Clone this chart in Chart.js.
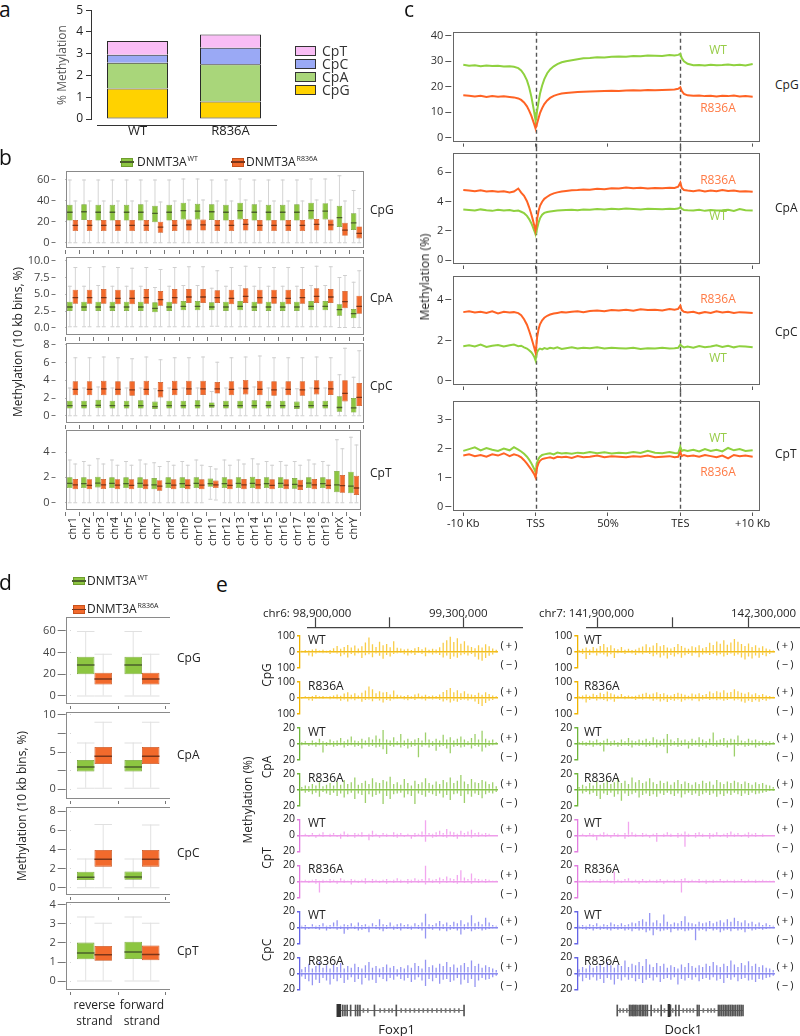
<!DOCTYPE html>
<html><head><meta charset="utf-8">
<script src="https://cdn.jsdelivr.net/npm/chart.js"></script>
<style>
html,body{margin:0;padding:0;background:#fff;}
#root{position:relative;width:800px;height:1036px;overflow:hidden;background:#fff;font-family:'Open Sans',sans-serif;}
canvas{position:absolute;}
</style></head><body><div id="root"></div>
<script>
// ================= DATA =================
// --- panel a (stacked % methylation) ---
const aCats = ['WT', 'R836A'];
const aCpG = [1.40, 0.80];
const aCpA = [1.18, 1.72];
const aCpC = [0.37, 0.76];
const aCpT = [0.63, 0.60];
const aTicks = [0, 1, 2, 3, 4, 5];

// --- panel b (per-chromosome boxplots) ---
const bChr = ['chr1','chr2','chr3','chr4','chr5','chr6','chr7','chr8','chr9','chr10','chr11','chr12','chr13','chr14','chr15','chr16','chr17','chr18','chr19','chrX','chrY'];
const bCpG_WT_min = [0,0,0,0,0,0,0,0,0,0,0,0,0,0,0,0,0,0,0,0,0];
const bCpG_WT_q1  = [21,21.5,21,21,21,21,19.5,21,22,22,21.5,21,22,21,21,21,21,22,22,15,12];
const bCpG_WT_med = [29.5,30,29.5,29.5,29.5,29.5,28.5,29.5,31,30.5,30,29.5,31,29.5,29.5,29.5,29.5,31,30.5,24.5,19.5];
const bCpG_WT_q3  = [36,36.5,36,36,36,36.5,35,36,38,37,36.5,36,38,36.5,36,36,36.5,38,37.5,35,28];
const bCpG_WT_max = [60,60,60,60,60,60,60,60,61,61,60,60,61,60,60,60,60,61,61,64,50];
const bCpG_R_min = [0,0,0,0,0,0,0,0,0,0,0,0,0,0,0,0,0,0,0,0,0];
const bCpG_R_q1  = [11,11,11,11,11,11,9.5,11,11.5,11.5,11,11,11.5,11,11,11,11,11.5,11.5,6.5,4];
const bCpG_R_med = [17,17,17,17,17,17,15.5,17,17.5,17.5,17,17,18,17,17,17,17,18,17.5,12.5,9.5];
const bCpG_R_q3  = [21.5,21.5,21.5,21.5,21.5,21.5,20,21.5,22,22,21.5,21.5,22.5,21.5,21.5,21.5,21.5,22.5,22,19,15.5];
const bCpG_R_max = [40,40,40,40,40,40,39,40,41,41,40,40,41,40,40,40,40,41,41,40,33];

const bCpA_WT_min = [0.2,0.2,0.2,0.2,0.2,0.2,0.2,0.2,0.2,0.2,0.3,0.2,0.2,0.2,0.2,0.2,0.2,0.2,0.2,0.1,0.1];
const bCpA_WT_q1  = [2.5,2.5,2.5,2.5,2.5,2.5,2.3,2.5,2.6,2.6,2.6,2.5,2.6,2.5,2.5,2.5,2.5,2.6,2.6,1.8,1.4];
const bCpA_WT_med = [3.2,3.2,3.2,3.2,3.2,3.2,3.0,3.2,3.3,3.3,3.2,3.2,3.3,3.2,3.2,3.2,3.2,3.3,3.3,2.8,2.2];
const bCpA_WT_q3  = [3.9,3.9,3.9,3.9,3.9,3.9,3.8,3.9,4.0,4.0,3.8,3.9,4.0,3.9,3.9,3.9,3.9,4.0,4.0,3.5,2.8];
const bCpA_WT_max = [6.3,6.3,6.4,6.3,6.3,6.3,6.1,6.3,6.4,6.4,6.0,6.3,6.4,6.3,6.3,6.3,6.3,6.4,6.4,7.6,6.9];
const bCpA_R_min = [0.2,0.2,0.2,0.2,0.2,0.2,0.2,0.2,0.2,0.2,0.3,0.2,0.2,0.2,0.2,0.2,0.2,0.2,0.2,0.1,0.1];
const bCpA_R_q1  = [3.6,3.6,3.6,3.5,3.5,3.6,3.3,3.6,3.7,3.7,3.7,3.5,3.7,3.6,3.6,3.5,3.6,3.7,3.7,2.9,2.1];
const bCpA_R_med = [4.6,4.6,4.6,4.5,4.5,4.6,4.3,4.6,4.7,4.7,4.6,4.5,4.8,4.6,4.6,4.5,4.6,4.8,4.7,4.0,3.3];
const bCpA_R_q3  = [5.7,5.7,5.8,5.7,5.7,5.8,5.5,5.8,5.8,5.8,5.6,5.7,5.9,5.7,5.7,5.7,5.8,5.9,5.8,5.5,4.8];
const bCpA_R_max = [9.1,9.1,9.2,9.1,9.0,9.1,8.8,9.1,9.2,9.2,8.6,9.1,9.3,9.1,9.1,9.1,9.1,9.3,9.2,7.9,8.6];

const bCpC_WT_min = [0,0,0,0,0,0,0,0,0,0,0,0,0,0,0,0,0,0,0,0,0];
const bCpC_WT_q1  = [0.8,0.8,0.85,0.8,0.8,0.8,0.75,0.8,0.8,0.8,0.9,0.8,0.8,0.8,0.8,0.8,0.75,0.8,0.8,0.45,0.35];
const bCpC_WT_med = [1.2,1.2,1.25,1.2,1.2,1.2,1.1,1.2,1.2,1.2,1.2,1.2,1.2,1.2,1.2,1.2,1.1,1.2,1.2,1.0,0.95];
const bCpC_WT_q3  = [1.7,1.7,1.8,1.7,1.7,1.75,1.6,1.7,1.7,1.75,1.5,1.7,1.7,1.75,1.7,1.7,1.6,1.7,1.7,2.2,2.0];
const bCpC_WT_max = [3.2,3.2,3.3,3.2,3.2,3.2,3.1,3.2,3.2,3.2,2.8,3.2,3.2,3.3,3.2,3.2,3.1,3.2,3.2,4.7,4.4];
const bCpC_R_min = [0,0,0,0,0,0,0,0,0,0,0,0,0,0,0,0,0,0,0,0,0];
const bCpC_R_q1  = [2.3,2.3,2.3,2.3,2.25,2.3,2.05,2.3,2.35,2.35,2.5,2.3,2.4,2.3,2.25,2.3,2.25,2.4,2.35,1.6,1.1];
const bCpC_R_med = [3.05,3.05,3.1,3.05,3.0,3.05,2.9,3.05,3.1,3.1,3.1,3.05,3.15,3.05,3.0,3.05,3.0,3.15,3.1,2.6,2.15];
const bCpC_R_q3  = [3.9,3.9,3.95,3.9,3.9,3.95,3.8,3.95,3.95,3.95,3.8,3.9,4.05,3.95,3.9,3.9,3.9,4.0,3.95,4.0,3.7];
const bCpC_R_max = [6.6,6.6,6.7,6.6,6.5,6.7,6.4,6.6,6.6,6.7,6.1,6.6,6.7,6.8,6.6,6.6,6.6,6.7,6.6,7.7,7.4];

const bCpT_WT_min = [0,0,0,0,0,0,0,0,0,0,0.3,0,0,0,0,0,0,0,0,0,0];
const bCpT_WT_q1  = [1.15,1.15,1.2,1.15,1.15,1.15,1.05,1.15,1.15,1.15,1.25,1.15,1.15,1.15,1.15,1.15,1.1,1.15,1.15,0.82,0.74];
const bCpT_WT_med = [1.58,1.55,1.6,1.57,1.55,1.57,1.45,1.57,1.55,1.57,1.55,1.55,1.57,1.57,1.55,1.57,1.5,1.6,1.55,1.45,1.35];
const bCpT_WT_q3  = [2.0,2.0,2.05,2.0,2.0,2.0,1.95,2.0,2.0,2.0,1.9,2.0,2.0,2.05,2.0,2.0,1.95,2.0,2.0,2.5,2.45];
const bCpT_WT_max = [3.4,3.3,3.5,3.4,3.3,3.4,3.2,3.3,3.3,3.4,2.9,3.4,3.4,3.5,3.3,3.3,3.3,3.4,3.3,5.0,5.2];
const bCpT_R_min = [0,0,0,0,0,0,0,0,0,0,0.25,0,0,0,0,0,0,0,0,0,0];
const bCpT_R_q1  = [1.05,1.05,1.07,1.05,1.05,1.05,0.95,1.05,1.05,1.05,1.15,1.05,1.05,1.05,1.05,1.05,1.0,1.05,1.05,0.79,0.6];
const bCpT_R_med = [1.45,1.42,1.45,1.43,1.42,1.43,1.35,1.43,1.42,1.43,1.45,1.42,1.45,1.45,1.42,1.43,1.38,1.45,1.42,1.39,1.21];
const bCpT_R_q3  = [1.87,1.85,1.87,1.85,1.85,1.85,1.78,1.85,1.85,1.85,1.75,1.85,1.87,1.87,1.85,1.85,1.8,1.87,1.85,2.18,2.13];
const bCpT_R_max = [3.1,3.0,3.1,3.0,3.0,3.1,2.9,3.0,3.0,3.0,2.7,3.0,3.1,3.1,3.0,3.0,3.0,3.1,3.0,4.3,4.6];

const bTicksCpG = [0, 20, 40, 60];
const bTicksCpA = [0, 2.5, 5, 7.5, 10];
const bTicksCpC = [0, 2, 4, 6, 8];
const bTicksCpT = [0, 2, 4];

// --- panel c (metagene profiles) ---
const cX = [0,8,16,24,32,40,48,56,64,70,76,80,84,88,91,94,96,98,99,100,101,102,104,106,109,112,116,120,125,130,136,142,150,158,166,175,185,195,205,215,225,235,245,255,265,275,285,292,297,300,302,305,310,318,326,334,342,350,358,366,374,382,390,400];
const cTickVals = [0, 100, 200, 300, 400];
const cTickLabels = ['-10 Kb', 'TSS', '50%', 'TES', '+10 Kb'];
const cCpG_WT = [28.6,28.2,28.4,28.0,28.3,28.1,28.2,27.9,28.0,27.8, 27.3,26.4,24.8,22.5,19.8,16.2,13.2,10.0,8.2,6.5, 8.0,10.5,14.0,17.2,20.5,23.0,25.3,26.8,28.0,28.9, 29.6,30.0,30.4,30.8,31.2,31.3,31.6,31.5,31.8,31.9, 31.8,32.1,32.0,32.3,32.2,32.1,32.4,32.3,32.5,32.9, 31.2,30.0,29.0,28.4,28.5,28.3,28.6,28.4,28.5,28.7, 28.4,28.6,28.3,28.9];
const cCpG_R = [16.6,16.4,16.2,16.4,16.0,16.3,16.1,16.2,16.0,15.8, 15.4,14.8,13.8,12.3,10.6,8.6,7.0,5.3,4.4,3.8, 4.4,5.6,7.6,9.6,11.6,13.2,14.6,15.6,16.4,16.9, 17.3,17.5,17.7,17.9,18.0,18.1,18.2,18.3,18.4,18.3, 18.5,18.6,18.5,18.7,18.6,18.7,18.8,18.9,19.2,19.8, 18.3,17.2,16.6,16.4,16.5,16.3,16.4,16.2,16.4,16.3, 16.5,16.2,16.3,16.1];
const cCpA_WT = [3.45,3.42,3.38,3.46,3.40,3.36,3.44,3.38,3.42,3.35, 3.38,3.30,3.20,3.02,2.80,2.52,2.28,2.02,1.88,1.78, 1.90,2.15,2.55,2.85,3.10,3.22,3.28,3.32,3.35,3.38, 3.40,3.42,3.44,3.40,3.46,3.44,3.48,3.45,3.50,3.47, 3.52,3.49,3.46,3.50,3.48,3.47,3.50,3.48,3.52,3.60, 3.50,3.42,3.40,3.38,3.44,3.36,3.42,3.38,3.40,3.44, 3.36,3.48,3.40,3.38];
const cCpA_R = [4.78,4.74,4.70,4.76,4.68,4.72,4.66,4.70,4.62,4.68, 4.88,4.60,4.38,4.02,3.62,3.15,2.78,2.38,2.18,2.08, 2.30,2.80,3.35,3.70,3.98,4.18,4.32,4.45,4.55,4.62, 4.68,4.72,4.76,4.78,4.82,4.80,4.86,4.84,4.90,4.88, 4.95,4.90,4.93,4.88,4.92,4.90,4.94,4.92,5.00,5.28, 4.92,4.78,4.74,4.70,4.76,4.68,4.74,4.70,4.78,4.72, 4.75,4.68,4.70,4.66];
const cCpC_WT = [1.72,1.76,1.70,1.80,1.68,1.74,1.78,1.70,1.76,1.80, 1.72,1.74,1.66,1.60,1.52,1.42,1.32,1.20,1.10,1.04, 1.25,1.42,1.55,1.60,1.56,1.62,1.58,1.64,1.60,1.66, 1.58,1.62,1.66,1.60,1.64,1.62,1.66,1.60,1.64,1.62, 1.60,1.64,1.58,1.62,1.60,1.64,1.60,1.62,1.64,1.80, 1.72,1.66,1.70,1.64,1.72,1.66,1.70,1.76,1.68,1.74, 1.66,1.72,1.70,1.66];
const cCpC_R = [3.40,3.44,3.38,3.42,3.36,3.44,3.34,3.42,3.38,3.40, 3.35,3.25,3.05,2.78,2.48,2.15,1.90,1.65,1.52,1.45, 1.75,2.15,2.55,2.80,3.00,3.12,3.22,3.28,3.33,3.36, 3.40,3.38,3.42,3.44,3.40,3.46,3.48,3.44,3.50,3.48, 3.52,3.47,3.54,3.50,3.52,3.48,3.55,3.52,3.56,3.72, 3.50,3.42,3.38,3.42,3.34,3.40,3.36,3.44,3.38,3.42, 3.36,3.40,3.38,3.36];
const cCpT_WT = [1.92,1.98,2.04,1.94,2.02,1.96,1.92,2.00,1.94,2.05, 1.96,1.90,1.82,1.72,1.62,1.50,1.40,1.30,1.24,1.20, 1.35,1.52,1.65,1.72,1.78,1.80,1.82,1.84,1.80,1.86, 1.83,1.85,1.82,1.86,1.84,1.88,1.84,1.87,1.83,1.86, 1.84,1.88,1.85,1.92,1.86,1.84,1.88,1.85,1.84,2.06, 1.92,1.95,1.92,1.96,1.90,1.98,1.92,1.96,1.90,2.02, 1.94,1.98,1.92,1.94];
const cCpT_R = [1.76,1.80,1.74,1.78,1.72,1.80,1.76,1.84,1.74,1.80, 1.76,1.70,1.60,1.48,1.38,1.28,1.20,1.12,1.06,1.03, 1.18,1.35,1.50,1.58,1.64,1.66,1.68,1.70,1.66,1.72, 1.70,1.72,1.68,1.74,1.70,1.72,1.76,1.70,1.74,1.72, 1.70,1.74,1.72,1.76,1.70,1.72,1.74,1.70,1.72,1.88, 1.74,1.78,1.74,1.76,1.72,1.78,1.74,1.70,1.76,1.66, 1.78,1.74,1.76,1.72];
const cTicksCpG = [0, 10, 20, 30, 40];
const cTicksCpA = [0, 2, 4, 6];
const cTicksCpC = [0, 2, 4];
const cTicksCpT = [0, 1, 2, 3];

// --- panel d (strand boxplots) ---
const dCats = [['reverse', 'strand'], ['forward', 'strand']];
const dCpG_WT_min = [0, 0], dCpG_WT_q1 = [20, 20], dCpG_WT_med = [29.2, 29.2], dCpG_WT_q3 = [36.3, 36.3], dCpG_WT_max = [60, 60];
const dCpG_R_min = [0, 0], dCpG_R_q1 = [10.5, 10.5], dCpG_R_med = [16.3, 16.3], dCpG_R_q3 = [21.5, 21.5], dCpG_R_max = [39, 39];
const dCpA_WT_min = [0.2, 0.2], dCpA_WT_q1 = [2.4, 2.4], dCpA_WT_med = [3.1, 3.1], dCpA_WT_q3 = [3.95, 3.95], dCpA_WT_max = [6.3, 6.3];
const dCpA_R_min = [0.2, 0.2], dCpA_R_q1 = [3.4, 3.4], dCpA_R_med = [4.55, 4.55], dCpA_R_q3 = [5.7, 5.7], dCpA_R_max = [9.1, 9.1];
const dCpC_WT_min = [0, 0], dCpC_WT_q1 = [0.8, 0.82], dCpC_WT_med = [1.18, 1.2], dCpC_WT_q3 = [1.67, 1.7], dCpC_WT_max = [3.06, 3.06];
const dCpC_R_min = [0, 0], dCpC_R_q1 = [2.2, 2.2], dCpC_R_med = [3.06, 3.06], dCpC_R_q3 = [3.93, 3.93], dCpC_R_max = [6.64, 6.6];
const dCpT_WT_min = [0, 0], dCpT_WT_q1 = [1.14, 1.16], dCpT_WT_med = [1.51, 1.56], dCpT_WT_q3 = [2.02, 2.07], dCpT_WT_max = [3.39, 3.39];
const dCpT_R_min = [0, 0], dCpT_R_q1 = [1.07, 1.09], dCpT_R_med = [1.42, 1.44], dCpT_R_q3 = [1.84, 1.87], dCpT_R_max = [3.07, 3.07];
const dTicksCpG = [0, 20, 40, 60];
const dTicksCpA = [0, 2.5, 5, 7.5, 10];
const dTicksCpC = [0, 2, 4, 6, 8];
const dTicksCpT = [0, 1, 2, 3, 4];

// --- panel e (genome browser tracks; p = (+) strand, m = (-) strand) ---
const eL_CpG_WT_p = [6,10,8,14,18,8,12,6,10,22,36,18,30,42,26,38,20,34,58,88,46,30,62,40,48,28,66,24,20,14,18,10,22,30,16,26,12,18,14,28,56,72,94,60,84,50,66,38,30,22,40,26,46,34,20,12];
const eL_CpG_WT_m = [4,8,24,30,12,6,10,8,14,6,12,28,18,36,14,24,10,40,22,16,34,12,26,44,20,30,14,10,8,16,24,12,20,8,14,28,10,18,12,20,36,24,46,30,38,22,16,24,14,32,48,56,40,26,18,8];
const eL_CpG_R_p = [4,8,6,10,16,8,10,6,8,14,20,12,26,34,18,28,14,30,44,70,52,28,40,32,36,20,44,18,14,10,16,8,20,26,12,18,10,14,10,20,36,48,60,34,46,28,40,24,20,16,30,18,34,22,14,8];
const eL_CpG_R_m = [3,6,16,20,8,4,8,6,10,4,10,20,12,24,10,16,8,26,14,12,22,8,18,30,14,20,10,8,6,12,16,8,14,6,10,18,8,12,8,14,24,16,30,20,26,14,12,18,10,24,40,52,34,20,14,6];
const eL_CpA_WT_p = [2,3,1,4,2,6,3,2,5,3,4,7,3,5,9,4,3,6,4,8,5,10,6,17,5,4,8,3,12,4,6,3,5,7,4,14,5,3,6,4,11,5,8,4,6,9,5,3,7,12,5,16,6,4,5,2];
const eL_CpA_WT_m = [2,1,3,2,4,2,11,3,2,4,3,2,5,3,2,4,3,6,2,4,3,5,4,7,13,3,4,2,5,3,6,4,3,17,4,2,5,3,9,4,3,6,12,4,3,5,4,2,6,3,4,10,5,3,2,1];
const eL_CpA_R_p = [3,5,4,7,5,9,4,6,8,5,10,6,12,7,9,15,6,8,11,7,14,9,8,12,10,16,7,9,6,13,8,5,11,7,9,14,8,6,10,7,12,9,15,8,11,18,10,7,13,9,8,12,10,7,9,4];
const eL_CpA_R_m = [2,4,3,6,4,9,3,5,7,4,8,5,10,6,4,12,5,7,17,6,9,7,5,18,8,12,6,5,4,10,6,8,18,5,7,9,4,6,8,5,10,7,13,6,5,8,17,6,9,5,7,11,6,4,5,3];
const eL_CpT_WT_p = [1,2,1,3,1,2,4,1,2,3,1,2,5,2,1,3,2,4,1,2,6,2,1,3,2,1,4,2,3,1,2,1,3,2,5,19,3,2,4,6,3,8,5,4,2,6,3,5,7,3,4,2,3,2,1,1];
const eL_CpT_WT_m = [1,1,2,1,3,1,2,1,2,1,2,4,1,2,1,3,1,2,1,6,2,1,3,1,2,1,2,3,1,2,1,4,2,1,2,8,1,3,2,1,2,3,1,2,4,1,2,1,3,1,2,1,2,1,1,1];
const eL_CpT_R_p = [1,2,1,2,3,1,2,1,3,2,1,4,2,1,3,2,1,2,4,1,3,2,1,2,3,1,2,4,2,1,3,2,4,2,3,20,4,2,3,5,3,6,4,3,8,14,5,3,10,4,3,2,3,2,1,1];
const eL_CpT_R_m = [1,1,2,1,3,14,2,1,2,1,3,1,2,1,4,1,2,1,3,1,2,1,2,1,3,1,2,1,2,1,3,2,1,2,1,4,1,2,1,3,1,2,1,2,3,1,2,1,3,1,2,1,2,1,1,1];
const eL_CpC_WT_p = [2,3,1,4,2,3,5,2,3,6,9,2,4,3,5,2,6,3,4,2,5,3,10,4,3,6,2,4,5,3,4,2,5,3,6,17,4,3,5,8,4,6,3,7,5,9,4,6,15,5,7,4,12,6,3,2];
const eL_CpC_WT_m = [1,3,2,1,2,3,1,4,2,1,3,2,8,3,1,2,4,3,2,6,1,2,3,5,2,1,3,2,4,1,2,3,1,2,4,14,2,3,1,4,2,5,3,2,4,9,3,2,5,3,2,4,3,2,1,1];
const eL_CpC_R_p = [5,8,12,6,9,14,7,10,6,11,8,13,6,9,7,12,8,6,10,14,7,9,6,8,11,7,9,5,8,6,10,7,13,9,6,17,8,10,7,12,9,14,8,11,7,10,13,8,16,9,12,7,10,8,6,4];
const eL_CpC_R_m = [4,7,10,15,8,12,6,9,14,7,10,6,12,8,5,11,7,14,6,9,8,12,5,7,10,6,8,4,7,9,6,11,8,5,9,16,7,10,6,13,8,7,11,9,6,14,8,12,7,17,9,6,8,7,5,3];

const eR_CpG_WT_p = [10,18,26,14,30,20,36,48,28,40,22,16,30,12,18,10,14,24,32,46,28,38,54,34,42,26,20,30,48,36,24,18,34,28,40,22,30,56,42,64,50,72,44,58,80,62,48,36,52,30,40,24,34,20,14,8];
const eR_CpG_WT_m = [6,14,46,20,10,24,12,18,30,16,40,10,8,14,6,12,20,10,16,8,14,28,18,36,24,42,20,30,16,38,22,14,26,10,34,18,12,20,14,24,16,30,20,12,26,18,36,48,30,42,24,38,20,28,14,6];
const eR_CpG_R_p = [8,14,20,12,24,16,30,22,38,28,20,12,22,10,14,8,12,18,24,30,20,26,34,22,28,18,14,22,30,24,18,12,26,20,28,16,22,38,28,40,32,46,30,36,52,40,30,24,34,20,28,16,22,14,10,6];
const eR_CpG_R_m = [4,10,30,14,8,18,10,14,22,12,26,8,6,10,4,8,14,8,12,6,10,20,12,24,16,28,14,20,12,26,16,10,18,8,22,12,8,14,10,16,12,20,14,8,18,12,24,32,20,28,16,26,14,20,10,4];
const eR_CpA_WT_p = [2,3,2,4,3,5,2,4,6,3,4,2,5,3,7,4,3,5,4,6,3,8,5,4,6,12,5,3,7,4,5,3,6,4,8,5,3,6,14,4,5,7,4,6,5,10,4,3,6,4,5,3,4,2,3,2];
const eR_CpA_WT_m = [1,2,3,2,4,2,3,10,2,3,2,4,3,2,3,5,2,3,2,4,3,2,5,3,4,12,3,2,4,3,2,6,3,2,4,3,5,2,3,4,2,3,5,2,16,3,2,4,3,2,5,3,2,3,2,1];
const eR_CpA_R_p = [3,6,4,8,5,10,6,8,12,7,9,14,8,11,7,15,9,12,8,10,14,9,7,11,8,10,6,9,12,7,10,8,6,9,7,11,8,10,6,12,9,7,10,8,11,9,7,10,8,6,9,7,8,6,5,3];
const eR_CpA_R_m = [2,5,3,6,4,8,12,5,7,4,9,6,14,5,8,6,4,10,7,5,8,6,9,5,7,4,6,8,5,10,6,4,7,5,8,6,4,7,5,9,6,8,5,7,4,6,8,5,7,4,6,5,4,3,2,2];
const eR_CpT_WT_p = [1,2,1,3,2,1,2,4,2,1,3,2,1,3,17,4,2,1,3,2,1,2,3,1,2,4,2,1,3,2,5,2,1,3,4,2,1,3,2,4,1,2,3,5,2,3,1,2,4,2,3,1,2,1,1,1];
const eR_CpT_WT_m = [1,1,2,1,2,6,1,2,1,3,1,2,1,4,2,1,2,1,2,1,3,1,8,1,2,1,2,1,3,1,14,2,1,3,1,2,1,4,2,1,2,1,3,1,2,1,2,1,3,1,2,1,2,1,1,1];
const eR_CpT_R_p = [1,1,2,1,2,1,3,1,2,1,12,2,1,3,4,1,2,1,3,1,2,1,2,3,1,2,1,2,1,3,4,1,2,1,3,1,2,1,2,1,3,1,2,1,2,1,3,1,2,1,2,1,2,1,1,1];
const eR_CpT_R_m = [1,1,1,2,1,1,2,1,1,2,3,1,2,1,1,2,1,3,1,2,1,1,2,1,3,1,1,2,1,14,1,2,1,1,2,1,3,1,2,1,1,2,1,1,2,1,1,2,1,1,2,1,1,1,1,1];
const eR_CpC_WT_p = [2,3,2,4,3,5,2,4,3,6,4,3,5,3,4,6,5,8,10,7,18,6,9,5,16,7,4,6,5,8,14,6,5,4,7,5,6,8,5,7,9,6,10,7,12,8,6,9,5,7,4,6,3,5,3,2];
const eR_CpC_WT_m = [1,2,3,2,4,2,3,2,3,4,2,3,2,4,3,5,2,4,3,6,4,10,3,5,4,3,6,2,4,3,5,4,3,16,4,3,5,2,4,3,6,4,3,5,2,4,3,6,2,4,3,2,3,2,1,1];
const eR_CpC_R_p = [5,8,6,10,7,9,12,8,14,10,7,11,9,16,8,12,10,14,9,18,11,8,13,9,12,7,10,8,6,11,8,13,9,7,10,8,12,9,14,10,8,12,9,16,11,8,13,10,15,9,12,8,10,7,6,4];
const eR_CpC_R_m = [4,10,6,8,5,9,7,12,6,8,14,7,9,5,8,6,10,7,12,8,6,9,5,11,7,6,8,5,14,7,9,6,8,5,10,7,6,8,5,9,7,12,6,8,5,10,7,6,9,8,11,7,8,6,5,3];

// genomic coordinates (kb relative to the first labelled tick)
const eL_axisTicks = [98900000, 99100000, 99300000];
const eR_axisTicks = [141900000, 142100000, 142300000];
const eL_geneSpan = [-25, 489];
const eL_exonThick = [-21];
const eL_exons = [-5, 4, 13, 27, 47, 56, 65, 124, 213, 489];
const eL_chevrons = [79, 97, 147, 165, 183, 196, 233, 251, 269, 287, 305, 323, 341, 359, 378, 396, 414, 432, 450, 468];
const eR_geneSpan = [-36, 465];
const eR_exonThick = [170];
const eR_exons = [-36, 13, 19, 26, 31, 37, 43, 51, 57, 64, 70, 77, 84, 99, 139, 176, 197, 210, 283, 290, 367, 373, 380, 387, 394, 401, 408, 415, 422, 429, 436, 444, 451, 458, 465];
const eR_chevrons = [-25, -12, 2, 112, 126, 152, 185, 227, 241, 254, 267, 307, 325, 338, 351];

// ================= RENDERING =================
const FONT = "'Open Sans', 'Noto Sans', sans-serif";
Chart.defaults.font.family = FONT;
Chart.defaults.color = '#222';
Chart.defaults.animation = false;
Chart.defaults.responsive = false;
Chart.defaults.maintainAspectRatio = false;
Chart.defaults.events = [];
Chart.defaults.plugins.legend.display = false;
Chart.defaults.plugins.tooltip.enabled = false;
Chart.defaults.layout.autoPadding = false;

const root = document.getElementById('root');

Chart.register({
  id: 'frame',
  afterDraw(chart, args, o) {
    if (!o || !o.color) return;
    const a = chart.chartArea, ctx = chart.ctx, px = o.padX || 0;
    ctx.save(); ctx.strokeStyle = o.color; ctx.lineWidth = o.width || 1;
    const l = Math.round(a.left - px) + 0.5, t = Math.round(a.top) + 0.5;
    const r = Math.round(a.right + px) - 0.5, b = Math.round(a.bottom) - 0.5;
    ctx.strokeRect(l, t, r - l, b - t);
    ctx.restore();
  }
}, {
  id: 'vlines',
  beforeDatasetsDraw(chart, args, o) {
    if (!o || !o.values) return;
    const xs = chart.scales.x, a = chart.chartArea, ctx = chart.ctx;
    ctx.save(); ctx.strokeStyle = o.color; ctx.lineWidth = o.width; ctx.setLineDash(o.dash);
    for (let i = 0; i < o.values.length; i++) {
      const px = Math.round(xs.getPixelForValue(o.values[i])) + 0.5;
      ctx.beginPath(); ctx.moveTo(px, a.top - o.extTop); ctx.lineTo(px, a.bottom + o.extBottom); ctx.stroke();
    }
    ctx.restore();
  }
}, {
  id: 'offAxis',
  afterDraw(chart, args, o) {
    if (!o || !o.on) return;
    const a = chart.chartArea, ctx = chart.ctx;
    ctx.save(); ctx.strokeStyle = o.color; ctx.lineWidth = o.width;
    const y = Math.round(a.bottom + o.dy) + 0.5;
    ctx.beginPath(); ctx.moveTo(a.left + o.dx, y); ctx.lineTo(a.right, y); ctx.stroke();
    ctx.restore();
  }
});

const fixTicks = vals => s => { s.ticks = vals.map(v => ({value: v})); };

function mk(area, m, sz, cfg) {
  const x = Math.floor(area.L - m.l), y = Math.floor(area.T - m.t);
  const w = Math.ceil(area.R + m.r) - x, h = Math.ceil(area.B + m.b) - y;
  const cv = document.createElement('canvas');
  cv.width = w; cv.height = h;
  cv.style.left = x + 'px'; cv.style.top = y + 'px';
  cv.style.width = w + 'px'; cv.style.height = h + 'px';
  root.appendChild(cv);
  cfg.options = cfg.options || {};
  cfg.options.layout = {autoPadding: false, padding: {
    left: area.L - x - (sz.l || 0), top: area.T - y - (sz.t || 0),
    right: x + w - area.R, bottom: y + h - area.B - (sz.b || 0)}};
  return new Chart(cv, cfg);
}

function T(x, y, s, o = {}) {
  const d = document.createElement('div');
  const anchor = o.anchor || 'start';
  const tx = anchor === 'start' ? '0' : anchor === 'middle' ? '-50%' : '-100%';
  d.innerHTML = s;
  d.style.cssText = `position:absolute;left:${x}px;top:${y}px;font-size:${o.size || 12}px;line-height:1;color:${o.color || '#222'};white-space:nowrap;font-family:${FONT};transform:translate(${tx},-50%)${o.rot ? ` rotate(${o.rot}deg)` : ''};${o.ls ? 'letter-spacing:' + o.ls + 'px;' : ''}`;
  root.appendChild(d);
}
function box(x, y, w, h, fill, border, mid) {
  const d = document.createElement('div');
  d.style.cssText = `position:absolute;left:${x}px;top:${y}px;width:${w}px;height:${h}px;background:${fill};border:1px solid ${border};box-sizing:border-box;`;
  root.appendChild(d);
  if (mid) {
    const l = document.createElement('div');
    l.style.cssText = `position:absolute;left:${x - 1}px;top:${y + h / 2 - 0.75}px;width:${w + 2}px;height:1.5px;background:${mid};`;
    root.appendChild(l);
  }
}
const SUP = s => `<span style="font-size:7px;position:relative;top:-5px;margin-left:1px">${s}</span>`;

const GREEN = '#8dc641', GREEN_B = '#6f9e2e', GREEN_M = '#4b5f2b';
const ORANGE = '#f26a2c', ORANGE_B = '#c8521c', ORANGE_M = '#7b3518';

// ---------- panel a ----------
const aCol = {CpG: '#ffd200', CpA: '#a9d67a', CpC: '#9aa9f5', CpT: '#f9bdf5'};
mk({L: 91, T: 10, R: 277, B: 119}, {l: 48, t: 10, r: 6, b: 24}, {l: 40, b: 20}, {
  type: 'bar',
  data: {labels: aCats, datasets: [
    {data: aCpG, backgroundColor: aCol.CpG, borderWidth: {top: 1, left: 1, right: 1, bottom: 1}},
    {data: aCpA, backgroundColor: aCol.CpA, borderWidth: {top: 1, left: 1, right: 1, bottom: 0}},
    {data: aCpC, backgroundColor: aCol.CpC, borderWidth: {top: 1, left: 1, right: 1, bottom: 0}},
    {data: aCpT, backgroundColor: aCol.CpT, borderWidth: {top: 1, left: 1, right: 1, bottom: 0}}
  ].map(d => Object.assign(d, {borderColor: '#2a2a2a', borderSkipped: false, barPercentage: 0.656, categoryPercentage: 1, inflateAmount: 0}))},
  options: {scales: {
    x: {stacked: true, grid: {display: false, drawTicks: false}, border: {display: false},
        ticks: {font: {size: 13}, color: '#222', padding: 4}, afterFit: s => { s.height = 20; }},
    y: {stacked: true, min: 0, max: 5, afterBuildTicks: fixTicks(aTicks),
        grid: {drawOnChartArea: false, drawTicks: true, tickLength: 5, tickColor: '#333'},
        border: {display: true, color: '#333', width: 1},
        ticks: {font: {size: 12}, color: '#222', padding: 3}, afterFit: s => { s.width = 40; }}
  }, plugins: {offAxis: {on: true, color: '#333', width: 1, dx: 6, dy: 6}}}
});

// ---------- boxplot helpers (panels b, d) ----------
function boxSets(wt, r, o) {
  const G = [['wt', wt, GREEN, GREEN_B, GREEN_M], ['r', r, ORANGE, ORANGE_B, ORANGE_M]];
  const base = {categoryPercentage: o.cp, borderWidth: 0, borderSkipped: false, inflateAmount: 0};
  const ds = [];
  G.forEach(([st, s, f, b, mc]) => ds.push({...base, stack: st, data: s[2].map(v => [v, v]), backgroundColor: mc, barPercentage: 1, minBarLength: o.medW}));
  G.forEach(([st, s, f, b]) => ds.push({...base, stack: st, data: s[1].map((v, i) => [v, s[3][i]]), backgroundColor: f, borderColor: b, borderWidth: o.bw, barPercentage: 1}));
  G.forEach(([st, s]) => {
    ds.push({...base, stack: st, data: s[4].map(v => [v, v]), backgroundColor: o.capC, barPercentage: o.capP, minBarLength: 1});
    ds.push({...base, stack: st, data: s[0].map(v => [v, v]), backgroundColor: o.capC, barPercentage: o.capP, minBarLength: 1});
  });
  G.forEach(([st, s]) => ds.push({...base, stack: st, data: s[0].map((v, i) => [v, s[4][i]]), backgroundColor: o.wC, barPercentage: 0.3, maxBarThickness: 1}));
  return ds;
}
function boxChart(area, p, o) {
  return mk(area, {l: o.ml, t: 10, r: 4, b: o.xh + 4}, {l: o.yw, b: o.xh}, {
    type: 'bar',
    data: {labels: o.labels, datasets: boxSets(p.wt, p.r, o)},
    options: {
      scales: {
        x: {type: 'category', stacked: true, offset: true,
            grid: {display: true, drawOnChartArea: false, drawTicks: true, tickLength: o.xtl, tickBorderDash: o.xdash, tickColor: '#777', tickWidth: 1},
            border: {display: false},
            ticks: o.xTicks || {display: false},
            afterFit: s => { s.height = o.xh; }},
        y: {type: 'linear', stacked: false, min: p.min, max: p.max, afterBuildTicks: fixTicks(p.ticks),
            grid: {drawOnChartArea: false, drawTicks: true, tickLength: o.ytl, tickBorderDash: o.ydash, tickColor: '#777'},
            border: {display: false},
            ticks: {font: {size: 11}, color: '#444', padding: 2, callback: p.fmt || (v => v)},
            afterFit: s => { s.width = o.yw; }}
      },
      plugins: {frame: {color: '#8a8a8a', width: 1, padX: o.padX || 0}}
    }
  });
}

// ---------- panel b ----------
const bPanels = [
  {T: 171, B: 248, min: -5, max: 68, ticks: bTicksCpG,
   wt: [bCpG_WT_min, bCpG_WT_q1, bCpG_WT_med, bCpG_WT_q3, bCpG_WT_max], r: [bCpG_R_min, bCpG_R_q1, bCpG_R_med, bCpG_R_q3, bCpG_R_max]},
  {T: 257, B: 335, min: -1.1, max: 10.6, ticks: bTicksCpA, fmt: v => v.toFixed(1),
   wt: [bCpA_WT_min, bCpA_WT_q1, bCpA_WT_med, bCpA_WT_q3, bCpA_WT_max], r: [bCpA_R_min, bCpA_R_q1, bCpA_R_med, bCpA_R_q3, bCpA_R_max]},
  {T: 342.7, B: 423, min: -0.83, max: 8.26, ticks: bTicksCpC,
   wt: [bCpC_WT_min, bCpC_WT_q1, bCpC_WT_med, bCpC_WT_q3, bCpC_WT_max], r: [bCpC_R_min, bCpC_R_q1, bCpC_R_med, bCpC_R_q3, bCpC_R_max]},
  {T: 430, B: 510, min: -0.58, max: 5.74, ticks: bTicksCpT,
   wt: [bCpT_WT_min, bCpT_WT_q1, bCpT_WT_med, bCpT_WT_q3, bCpT_WT_max], r: [bCpT_R_min, bCpT_R_q1, bCpT_R_med, bCpT_R_q3, bCpT_R_max]}
];
bPanels.forEach((p, k) => {
  const last = k === bPanels.length - 1;
  boxChart({L: 65.5, R: 363.5, T: p.T, B: p.B}, p, {
    labels: bChr, cp: 0.78, medW: 1.3, bw: 0.7, capC: '#cfcfcf', capP: 0.7, wC: '#d5d5d5',
    ml: 60, yw: 45, ytl: 14, ydash: [4, 10], xtl: 6, xdash: [0, 2, 4, 0],
    xh: last ? 52 : 6,
    xTicks: last ? {display: true, autoSkip: false, minRotation: 90, maxRotation: 90, font: {size: 11}, color: '#222', padding: 1} : null
  });
});

// ---------- panel c ----------
function lineChart(area, p, o) {
  return mk(area, {l: 56, t: 10, r: 14, b: o.xh + 10}, {l: 40, b: o.xh}, {
    type: 'line',
    data: {datasets: [
      {data: cX.map((x, i) => ({x, y: p.r[i]})), borderColor: '#ff6324', borderWidth: 2, pointRadius: 0, tension: 0},
      {data: cX.map((x, i) => ({x, y: p.wt[i]})), borderColor: '#8fd13f', borderWidth: 2, pointRadius: 0, tension: 0}
    ]},
    options: {
      scales: {
        x: {type: 'linear', min: -13.8, max: 410.1, afterBuildTicks: fixTicks(cTickVals),
            grid: {drawOnChartArea: false, drawTicks: true, tickLength: 5, tickBorderDash: [0, 1.5, 3.5, 0], tickColor: '#555'},
            border: {display: false},
            ticks: o.labels ? {font: {size: 11}, color: '#222', padding: 1, callback: v => cTickLabels[cTickVals.indexOf(v)]} : {display: false},
            afterFit: s => { s.height = o.xh; }},
        y: {type: 'linear', min: p.min, max: p.max, afterBuildTicks: fixTicks(p.ticks),
            grid: {drawOnChartArea: false, drawTicks: true, tickLength: 8, tickBorderDash: [6, 2], tickColor: '#555'},
            border: {display: false},
            ticks: {font: {size: 11}, color: '#333', padding: 2},
            afterFit: s => { s.width = 40; }}
      },
      plugins: {frame: {color: '#666', width: 1},
                vlines: {values: [cTickVals[1], cTickVals[3]], color: '#555', width: 1.4, dash: [4, 3], extTop: o.et, extBottom: o.eb}}
    }
  });
}
const cPanels = [
  {T: 31.7, B: 141.7, min: -1.6, max: 41.6, ticks: cTicksCpG, wt: cCpG_WT, r: cCpG_R, et: 0, eb: 6},
  {T: 153.3, B: 264.3, min: -0.28, max: 7.28, ticks: cTicksCpA, wt: cCpA_WT, r: cCpA_R, et: 6, eb: 6},
  {T: 275.7, B: 385, min: -0.2, max: 5.2, ticks: cTicksCpC, wt: cCpC_WT, r: cCpC_R, et: 6, eb: 8},
  {T: 400.7, B: 511, min: -0.14, max: 3.64, ticks: cTicksCpT, wt: cCpT_WT, r: cCpT_R, et: 8, eb: 0}
];
cPanels.forEach((p, k) => {
  const last = k === cPanels.length - 1;
  lineChart({L: 453.3, R: 760, T: p.T, B: p.B}, p, {xh: last ? 20 : 5, labels: last, et: p.et, eb: p.eb});
});

// ---------- panel d ----------
const dPanels = [
  {T: 617.3, B: 704, min: -7.4, max: 72.6, ticks: dTicksCpG,
   wt: [dCpG_WT_min, dCpG_WT_q1, dCpG_WT_med, dCpG_WT_q3, dCpG_WT_max], r: [dCpG_R_min, dCpG_R_q1, dCpG_R_med, dCpG_R_q3, dCpG_R_max]},
  {T: 711.7, B: 799, min: -1.3, max: 10.44, ticks: dTicksCpA, fmt: v => (v % 5 === 0 ? v : ''),
   wt: [dCpA_WT_min, dCpA_WT_q1, dCpA_WT_med, dCpA_WT_q3, dCpA_WT_max], r: [dCpA_R_min, dCpA_R_q1, dCpA_R_med, dCpA_R_q3, dCpA_R_max]},
  {T: 807.3, B: 895, min: -0.76, max: 8.39, ticks: dTicksCpC,
   wt: [dCpC_WT_min, dCpC_WT_q1, dCpC_WT_med, dCpC_WT_q3, dCpC_WT_max], r: [dCpC_R_min, dCpC_R_q1, dCpC_R_med, dCpC_R_q3, dCpC_R_max]},
  {T: 901.7, B: 990, min: -0.47, max: 4.17, ticks: dTicksCpT,
   wt: [dCpT_WT_min, dCpT_WT_q1, dCpT_WT_med, dCpT_WT_q3, dCpT_WT_max], r: [dCpT_R_min, dCpT_R_q1, dCpT_R_med, dCpT_R_q3, dCpT_R_max]}
];
dPanels.forEach((p, k) => {
  const last = k === dPanels.length - 1;
  boxChart({L: 70.7, R: 165.7, T: p.T, B: p.B}, p, {
    labels: dCats, cp: 0.737, medW: 1.5, bw: 0.8, capC: '#e0e0e0', capP: 1, wC: '#e2e2e2',
    ml: 62, yw: 45, ytl: 13, ydash: [8, 5], xtl: 5, xdash: [0, 2, 3, 0], padX: 5,
    xh: last ? 40 : 5,
    xTicks: last ? {display: true, maxRotation: 0, autoSkip: false, font: {size: 12, lineHeight: 1.35}, color: '#222', padding: 2} : null
  });
});

// ---------- panel e ----------
const eCol = {
  CpG: {bar: 'rgba(247,196,40,0.85)', line: '#f2bd1d', ax: '#f0b400'},
  CpA: {bar: 'rgba(140,200,80,0.85)', line: '#86c24a', ax: '#6fb53a'},
  CpT: {bar: 'rgba(240,150,236,0.85)', line: '#ee9cea', ax: '#e27de0'},
  CpC: {bar: 'rgba(130,130,240,0.85)', line: '#8a8af0', ax: '#6464e6'}
};
const eTracks = [['CpG', 'WT', 100], ['CpG', 'R836A', 100], ['CpA', 'WT', 20], ['CpA', 'R836A', 20],
                 ['CpT', 'WT', 20], ['CpT', 'R836A', 20], ['CpC', 'WT', 20], ['CpC', 'R836A', 20]];
const eLeft = [[eL_CpG_WT_p, eL_CpG_WT_m], [eL_CpG_R_p, eL_CpG_R_m], [eL_CpA_WT_p, eL_CpA_WT_m], [eL_CpA_R_p, eL_CpA_R_m],
               [eL_CpT_WT_p, eL_CpT_WT_m], [eL_CpT_R_p, eL_CpT_R_m], [eL_CpC_WT_p, eL_CpC_WT_m], [eL_CpC_R_p, eL_CpC_R_m]];
const eRight = [[eR_CpG_WT_p, eR_CpG_WT_m], [eR_CpG_R_p, eR_CpG_R_m], [eR_CpA_WT_p, eR_CpA_WT_m], [eR_CpA_R_p, eR_CpA_R_m],
                [eR_CpT_WT_p, eR_CpT_WT_m], [eR_CpT_R_p, eR_CpT_R_m], [eR_CpC_WT_p, eR_CpC_WT_m], [eR_CpC_R_p, eR_CpC_R_m]];

function trackChart(area, maxV, plus, minus, c) {
  return mk(area, {l: 38, t: 9, r: 2, b: 9}, {l: 30}, {
    type: 'bar',
    data: {labels: plus.map((_, i) => i), datasets: [
      {data: plus, backgroundColor: c.bar, grouped: false, maxBarThickness: 1.3, categoryPercentage: 1, barPercentage: 0.9, inflateAmount: 0},
      {data: minus.map(v => -v), backgroundColor: c.bar, grouped: false, maxBarThickness: 1.3, categoryPercentage: 1, barPercentage: 0.9, inflateAmount: 0}
    ]},
    options: {scales: {
      x: {display: false, offset: true},
      y: {min: -maxV, max: maxV, afterBuildTicks: fixTicks([-maxV, 0, maxV]),
          grid: {drawOnChartArea: true, drawTicks: true, tickLength: 3, tickColor: c.ax, lineWidth: 1.5,
                 color: ctx => (ctx.tick && ctx.tick.value === 0 ? c.line : 'rgba(0,0,0,0)')},
          border: {display: true, color: c.ax, width: 1.3},
          ticks: {font: {size: 10.5}, color: '#222', padding: 2, callback: v => Math.abs(v)},
          afterFit: s => { s.width = 30; }}
    }}
  });
}
const eZero0 = 651.7, eStep = 45.94;
eTracks.forEach((t, i) => {
  const c0 = eZero0 + eStep * i;
  const col = eCol[t[0]];
  trackChart({L: 300, R: 498, T: c0 - 16, B: c0 + 16}, t[2], eLeft[i][0], eLeft[i][1], col);
  trackChart({L: 577.3, R: 775, T: c0 - 16, B: c0 + 16}, t[2], eRight[i][0], eRight[i][1], col);
});

function coordChart(area, min, max, ticks) {
  return mk(area, {l: 2, t: 12, r: 0, b: 2}, {t: 10}, {
    type: 'line', data: {datasets: []},
    options: {scales: {
      x: {type: 'linear', position: 'top', min, max, afterBuildTicks: fixTicks(ticks),
          grid: {drawOnChartArea: false, drawTicks: true, tickLength: 10, tickColor: '#444', tickWidth: 1.2},
          border: {display: true, color: '#444', width: 1.2},
          ticks: {display: false}, afterFit: s => { s.height = 10; }},
      y: {display: false}
    }}
  });
}
coordChart({L: 308, R: 523, T: 627.3, B: 629.3}, 98878276, 99462118, eL_axisTicks);
coordChart({L: 587, R: 800, T: 627.3, B: 629.3}, 141871580, 142437344, eR_axisTicks);

function geneChart(area, min, max, span, exons, thick, chev, thickW) {
  return mk(area, {l: 2, t: 2, r: 2, b: 2}, {}, {
    type: 'bar',
    data: {datasets: [
      {type: 'bar', data: thick.map(x => ({x, y: [-1, 1]})), backgroundColor: '#333', barThickness: thickW, grouped: false},
      {type: 'bar', data: exons.map(x => ({x, y: [-0.85, 0.85]})), backgroundColor: '#555', barThickness: 1, grouped: false},
      {type: 'bar', data: chev.map(x => ({x, y: [-0.3, 0.3]})), backgroundColor: '#777', barThickness: 1, grouped: false},
      {type: 'line', data: span.map(x => ({x, y: 0})), borderColor: '#666', borderWidth: 1, pointRadius: 0}
    ]},
    options: {scales: {x: {type: 'linear', min, max, display: false}, y: {type: 'linear', min: -1, max: 1, display: false}}}
  });
}
geneChart({L: 300, R: 500, T: 1004, B: 1017}, -43.45, 499.66, eL_geneSpan, eL_exons, eL_exonThick, eL_chevrons, 4);
geneChart({L: 577, R: 790, T: 1004, B: 1017}, -54.98, 510.76, eR_geneSpan, eR_exons, eR_exonThick, eR_chevrons, 2);

// ================= TEXT =================
// panel letters
T(-1, 8.5, 'a', {size: 21, color: '#111'});
T(-1, 156.7, 'b', {size: 21, color: '#111'});
T(404, 8.5, 'c', {size: 21, color: '#111'});
T(-1, 581.5, 'd', {size: 21, color: '#111'});
T(216, 583.5, 'e', {size: 21, color: '#111'});

// panel a
T(62, 65, '% Methylation', {size: 12, color: '#555', anchor: 'middle', rot: -90});
[['CpT', aCol.CpT, 46], ['CpC', aCol.CpC, 59], ['CpA', aCol.CpA, 72], ['CpG', aCol.CpG, 85]].forEach(([n, c, y]) => {
  box(295, y, 21, 10, c, '#333');
  T(322, y + 5, n, {size: 14, color: '#333'});
});

// panel b
box(121, 157.5, 12, 9, GREEN, GREEN_B, GREEN_M);
T(137, 162, 'DNMT3A' + SUP('WT'), {size: 12});
box(232, 157.5, 12, 9, ORANGE, ORANGE_B, ORANGE_M);
T(246, 162, 'DNMT3A' + SUP('R836A'), {size: 12});
T(18, 342, 'Methylation (10 kb bins, %)', {size: 12, anchor: 'middle', rot: -90});
T(370, 210, 'CpG'); T(370, 298, 'CpA'); T(370, 386, 'CpC'); T(370, 473, 'CpT');

// panel c
T(425, 277, 'Methylation (%)', {size: 12, anchor: 'middle', rot: -90});
T(775, 85, 'CpG'); T(775, 208, 'CpA'); T(775, 331.7, 'CpC'); T(775, 454, 'CpT');
const cWT = '#97cc47', cR = '#ff7a45';
T(718, 50, 'WT', {anchor: 'middle', color: cWT}); T(718, 108, 'R836A', {anchor: 'middle', color: cR});
T(718, 180, 'R836A', {anchor: 'middle', color: cR}); T(718, 216, 'WT', {anchor: 'middle', color: cWT});
T(718, 299, 'R836A', {anchor: 'middle', color: cR}); T(718, 357.7, 'WT', {anchor: 'middle', color: cWT});
T(718, 437.7, 'WT', {anchor: 'middle', color: cWT}); T(718, 472.3, 'R836A', {anchor: 'middle', color: cR});

// panel d
box(72.7, 576.5, 12.3, 8.5, GREEN, GREEN_B, GREEN_M);
T(87, 580.7, 'DNMT3A' + SUP('WT'), {size: 12});
box(72.7, 605.2, 12.3, 8.5, ORANGE, ORANGE_B, ORANGE_M);
T(87, 609.3, 'DNMT3A' + SUP('R836A'), {size: 12});
T(22, 806, 'Methylation (10 kb bins, %)', {size: 12, anchor: 'middle', rot: -90});
T(177, 658.3, 'CpG'); T(177, 755, 'CpA'); T(177, 853.3, 'CpC'); T(177, 950.7, 'CpT');

// panel e
T(263, 612.7, 'chr6: 98,900,000', {size: 11.5});
T(429, 612.7, '99,300,000', {size: 11.5});
T(539, 612.7, 'chr7: 141,900,000', {size: 11.5});
T(731, 612.7, '142,300,000', {size: 11.5});
T(248, 800, 'Methylation (%)', {size: 12, anchor: 'middle', rot: -90});
[['CpG', 0], ['CpA', 2], ['CpT', 4], ['CpC', 6]].forEach(([n, i]) => {
  T(266.7, eZero0 + eStep * (i + 0.5), n, {size: 12, anchor: 'middle', rot: -90});
});
eTracks.forEach((t, i) => {
  const c0 = eZero0 + eStep * i;
  T(308, c0 - 12, t[1], {size: 12});
  T(584, c0 - 12, t[1], {size: 12});
  T(510, c0 - 8, '(+)', {size: 11, anchor: 'middle', ls: 2});
  T(510, c0 + 11, '(−)', {size: 11, anchor: 'middle', ls: 2});
  T(786, c0 - 8, '(+)', {size: 11, anchor: 'middle', ls: 2});
  T(786, c0 + 11, '(−)', {size: 11, anchor: 'middle', ls: 2});
});
T(396.7, 1029, 'Foxp1', {size: 13, anchor: 'middle'});
T(683.3, 1029, 'Dock1', {size: 13, anchor: 'middle'});
</script>
</body></html>
